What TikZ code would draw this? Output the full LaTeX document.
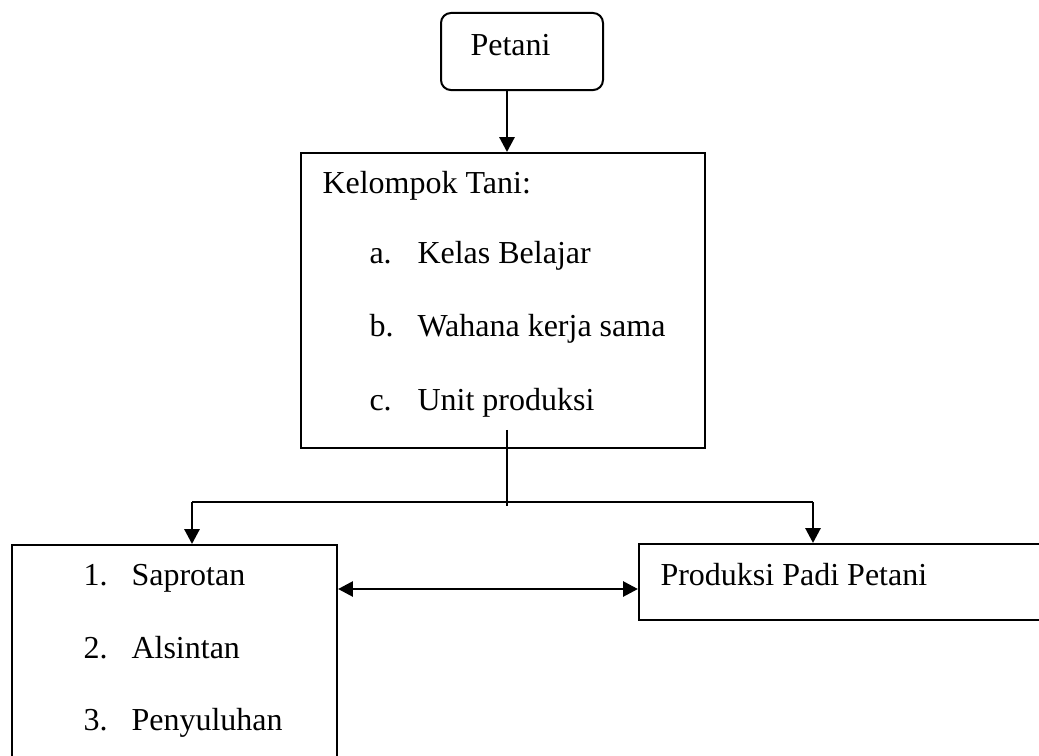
\documentclass[tikz,border=0pt]{standalone}
\usepackage{fontspec}
\setmainfont{Liberation Serif}
\usetikzlibrary{arrows.meta,positioning}
\newcommand{\itm}[2]{\makebox[18pt][l]{#1}#2}
\tikzset{
	box/.style={draw, line width=0.75pt, inner sep=0pt},
	lbl/.style={anchor=base west, inner sep=0pt, font=\fontsize{12}{14}\selectfont},
	link/.style={line width=0.75pt},
	arr/.style={line width=1.1pt, -{Triangle[length=5.6pt,width=5.6pt]}},
	arrboth/.style={line width=1.1pt, {Triangle[length=5.6pt,width=5.6pt]}-{Triangle[length=5.6pt,width=5.6pt]}}
}
\begin{document}
\begin{tikzpicture}[x=0.375pt, y=-0.375pt]
		\useasboundingbox (0,0) rectangle (1039,755);
		\clip (0,0) rectangle (1039,755);
		\node [box, rounded corners=3.75pt, minimum width=60.75pt, minimum height=28.9pt] (petani) at (522,51.5) {};
		\node [box, minimum width=151.5pt, minimum height=110.6pt] (kt) at (503,300.5) {};
		\node [box, minimum width=121.9pt, minimum height=103.1pt] (sk) at (174.5,682.5) {};
		\node [box, minimum width=180.4pt, minimum height=28.5pt] (prod) at (879.5,582) {};
		\node [lbl] (tpetani) at (470,55) {Petani};
		\node [lbl] (tkt) at (322,193) {Kelompok Tani:};
		\node [lbl] (ta) at (369,263) {\itm{a.}{Kelas Belajar}};
		\node [lbl] (tb) at (369,336) {\itm{b.}{Wahana kerja sama}};
		\node [lbl] (tc) at (369,410) {\itm{c.}{Unit produksi}};
		\node [lbl] (t1) at (83,585) {\itm{1.}{Saprotan}};
		\node [lbl] (t2) at (83,658) {\itm{2.}{Alsintan}};
		\node [lbl] (t3) at (83,730) {\itm{3.}{Penyuluhan}};
		\node [lbl] (tprod) at (660,585) {Produksi Padi Petani};
		\coordinate (mid) at (507,502);
		\coordinate (lft) at (192,502);
		\coordinate (rgt) at (813,502);
		\draw [arr] (petani.south -| mid) -- (kt.north -| mid);
		\draw [link] (mid |- kt.south) ++(0,-19) -- (mid) -- ++(0,4);
		\draw [link] (lft) -- (rgt);
		\draw [arr] (lft) -- (lft |- sk.north);
		\draw [arr] (rgt) -- (rgt |- prod.north);
		\path (prod.west) ++(0,7) coordinate (pw);
		\draw [arrboth] (pw -| sk.east) -- (pw);
\end{tikzpicture}
\end{document}
